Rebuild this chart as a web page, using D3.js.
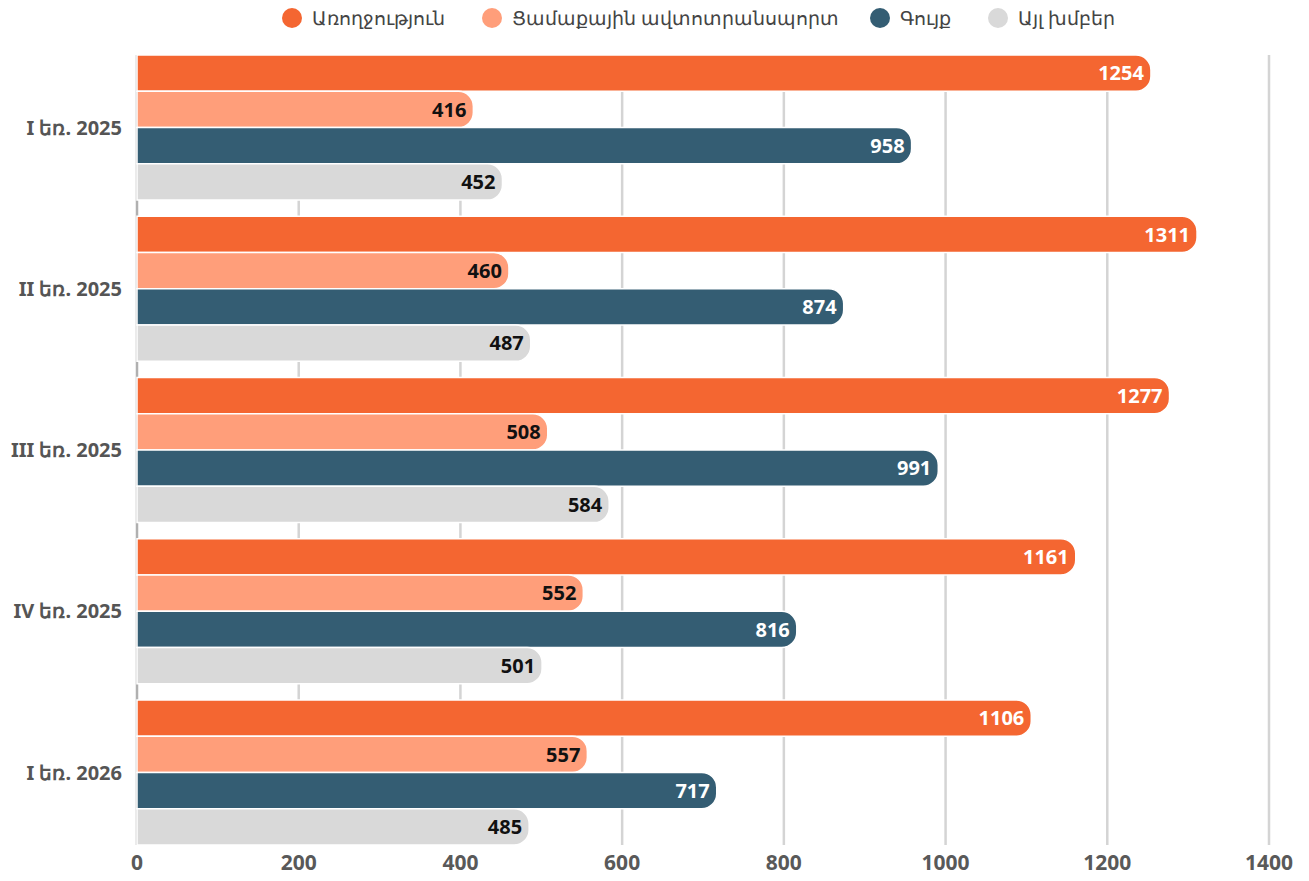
<!DOCTYPE html>
<html><head><meta charset="utf-8">
<script src="https://cdn.jsdelivr.net/npm/d3@7"></script>
<style>body{margin:0;background:#fff;}svg{display:block;font-family:"Noto Sans",sans-serif;}</style>
</head><body><svg id="c" width="1309" height="881"></svg>
<script>
const categories = ["I եռ. 2025","II եռ. 2025","III եռ. 2025","IV եռ. 2025","I եռ. 2026"];
const seriesNames = ["Առողջություն","Ցամաքային ավտոտրանսպորտ","Գույք","Այլ խմբեր"];
const seriesColors = ["#F46631","#FF9E7A","#345D73","#D9D9D9"];
const labelColors = ["#ffffff","#111111","#ffffff","#111111"];
const health = [1254,1311,1277,1161,1106];
const auto = [416,460,508,552,557];
const property = [958,874,991,816,717];
const other = [452,487,584,501,485];
const tickValues = [0,200,400,600,800,1000,1200,1400];

const series = [health, auto, property, other];
const svg = d3.select("#c");
const x = d3.scaleLinear().domain([0,1400]).range([137,1269]);
const y = d3.scaleBand().domain(categories).range([55,845]).paddingInner(0.1).paddingOuter(0);
const ys = d3.scaleBand().domain(d3.range(4)).range([0,y.bandwidth()]);

// gridlines
svg.append("g").selectAll("line").data(tickValues).join("line")
  .attr("x1",d=>x(d)).attr("x2",d=>x(d)).attr("y1",55).attr("y2",845)
  .attr("stroke",d=>d===0?"#b0b0b0":"#d4d4d4").attr("stroke-width",2.5);

// tick labels
svg.append("g").selectAll("text").data(tickValues).join("text")
  .attr("x",d=>x(d)).attr("y",870).attr("text-anchor","middle")
  .attr("font-size",21).attr("font-weight",700).attr("fill","#595959").text(d=>d);

// bars
function barPath(x0,x1,y0,h,r){
  r=Math.min(r,h/2,x1-x0);
  return `M${x0},${y0}H${x1-r}A${r},${r} 0 0 1 ${x1},${y0+r}V${y0+h-r}A${r},${r} 0 0 1 ${x1-r},${y0+h}H${x0}Z`;
}
const rows = [];
categories.forEach((c,i)=>series.forEach((s,j)=>rows.push({c,j,v:s[i]})));
const g = svg.append("g");
g.selectAll("path").data(rows).join("path")
  .attr("d",d=>barPath(x(0),x(d.v),y(d.c)+ys(d.j),ys.bandwidth(),15))
  .attr("fill",d=>seriesColors[d.j]).attr("stroke","#fff").attr("stroke-width",1.5);
g.selectAll("text").data(rows).join("text")
  .attr("x",d=>x(d.v)-7).attr("y",d=>y(d.c)+ys(d.j)+ys.bandwidth()/2)
  .attr("dy","0.36em").attr("text-anchor","end").attr("font-size",20).attr("font-weight",700)
  .attr("fill",d=>labelColors[d.j]).text(d=>d.v);

// category labels
svg.append("g").selectAll("text").data(categories).join("text")
  .attr("x",122).attr("y",d=>y(d)+y.bandwidth()/2).attr("dy","0.36em")
  .attr("text-anchor","end").attr("font-size",20).attr("font-weight",700).attr("fill","#555").text(d=>d);

// legend
const legX = [292,492,880,998];
const lg = svg.append("g").selectAll("g").data(seriesNames).join("g")
  .attr("transform",(d,i)=>`translate(${legX[i]},18)`);
lg.append("circle").attr("r",10).attr("fill",(d,i)=>seriesColors[i]);
lg.append("text").attr("x",20).attr("dy","0.35em").attr("font-size",19).attr("fill","#444").text(d=>d);
</script></body></html>
